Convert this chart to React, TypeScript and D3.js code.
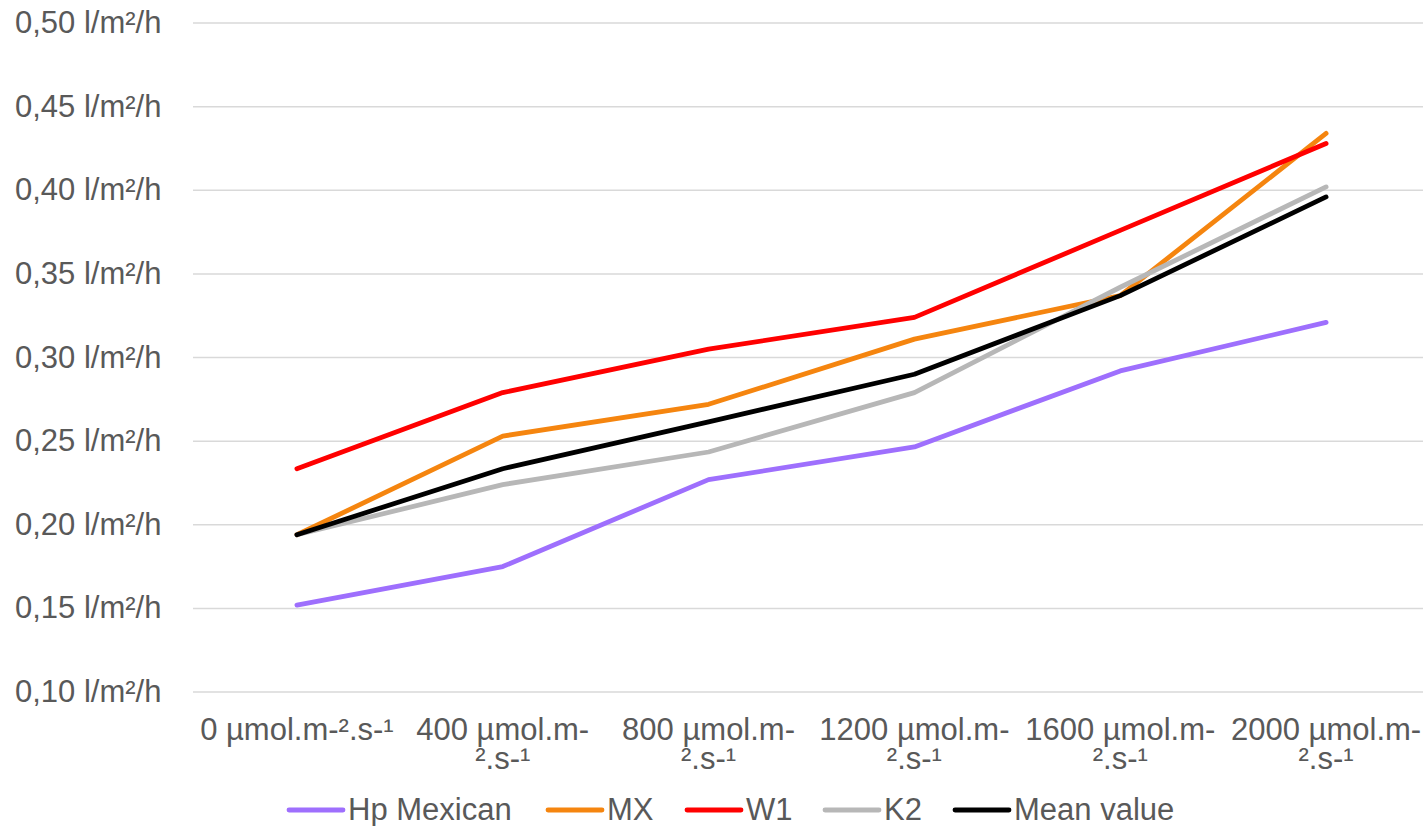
import React from "react";
import * as d3 from "d3";

const categories = [
  "0 µmol.m-².s-¹",
  "400 µmol.m-².s-¹",
  "800 µmol.m-².s-¹",
  "1200 µmol.m-².s-¹",
  "1600 µmol.m-².s-¹",
  "2000 µmol.m-².s-¹",
];
// Wrapped axis label lines
const categoryLines = [
  ["0 µmol.m-².s-¹"],
  ["400 µmol.m-", "².s-¹"],
  ["800 µmol.m-", "².s-¹"],
  ["1200 µmol.m-", "².s-¹"],
  ["1600 µmol.m-", "².s-¹"],
  ["2000 µmol.m-", "².s-¹"],
];

const hpMexican = [0.152, 0.175, 0.227, 0.2465, 0.292, 0.321];
const mx = [0.194, 0.253, 0.272, 0.311, 0.337, 0.434];
const w1 = [0.2335, 0.279, 0.305, 0.324, 0.376, 0.428];
const k2 = [0.194, 0.224, 0.2435, 0.279, 0.342, 0.402];
const meanValue = [0.194, 0.2335, 0.2615, 0.290, 0.337, 0.396];

const yTicks = [0.1, 0.15, 0.2, 0.25, 0.3, 0.35, 0.4, 0.45, 0.5];

const series = [
  { name: "Hp Mexican", values: hpMexican, color: "#9e6ffd" },
  { name: "MX", values: mx, color: "#f5850f" },
  { name: "W1", values: w1, color: "#ff0000" },
  { name: "K2", values: k2, color: "#b7b7b7" },
  { name: "Mean value", values: meanValue, color: "#000000" },
];

const W = 1423;
const H = 826;
const gridLeft = 193;
const gridRight = 1423;
const bandLeft = 194;
const bandRight = 1429;
const plotTop = 23;
const plotBottom = 692;
const textColor = "#595959";
const fontFamily = "'Liberation Sans', Arial, sans-serif";
const fontSize = 31;

export default function App() {
  const x = d3.scaleBand<string>().domain(categories).range([bandLeft, bandRight]);
  const y = d3.scaleLinear().domain([0.1, 0.5]).range([plotBottom, plotTop]);
  const cx = (i: number) => (x(categories[i]) as number) + x.bandwidth() / 2;
  const line = d3
    .line<number>()
    .x((_, i) => cx(i))
    .y((d) => y(d));
  const fmt = (v: number) => v.toFixed(2).replace(".", ",") + " l/m²/h";

  const legendItems = [
    { x: 289, s: series[0] },
    { x: 548, s: series[1] },
    { x: 687, s: series[2] },
    { x: 825, s: series[3] },
    { x: 955, s: series[4] },
  ];

  return (
    <svg
      width={W}
      height={H}
      style={{ position: "absolute", left: 0, top: 0, background: "#fff" }}
      fontFamily={fontFamily}
    >
      <rect width={W} height={H} fill="#fff" />
      {yTicks.map((t) => (
        <g key={t}>
          <line x1={gridLeft} x2={gridRight} y1={y(t)} y2={y(t)} stroke="#d9d9d9" strokeWidth={1.5} />
          <text x={15} y={y(t) + 10} fontSize={fontSize} fill={textColor}>
            {fmt(t)}
          </text>
        </g>
      ))}
      {categories.map((c, i) => (
        <text key={c} x={cx(i)} y={740} fontSize={fontSize} fill={textColor} textAnchor="middle">
          {categoryLines[i].map((l, j) => (
            <tspan key={j} x={cx(i)} dy={j === 0 ? 0 : 29}>
              {l}
            </tspan>
          ))}
        </text>
      ))}
      {series.map((s) => (
        <path
          key={s.name}
          d={line(s.values) as string}
          fill="none"
          stroke={s.color}
          strokeWidth={4.8}
          strokeLinecap="round"
          strokeLinejoin="round"
        />
      ))}
      {legendItems.map(({ x: lx, s }) => (
        <g key={s.name}>
          <line x1={lx} x2={lx + 54} y1={810} y2={810} stroke={s.color} strokeWidth={4.8} strokeLinecap="round" />
          <text x={lx + 59} y={820} fontSize={fontSize} fill={textColor}>
            {s.name}
          </text>
        </g>
      ))}
    </svg>
  );
}
